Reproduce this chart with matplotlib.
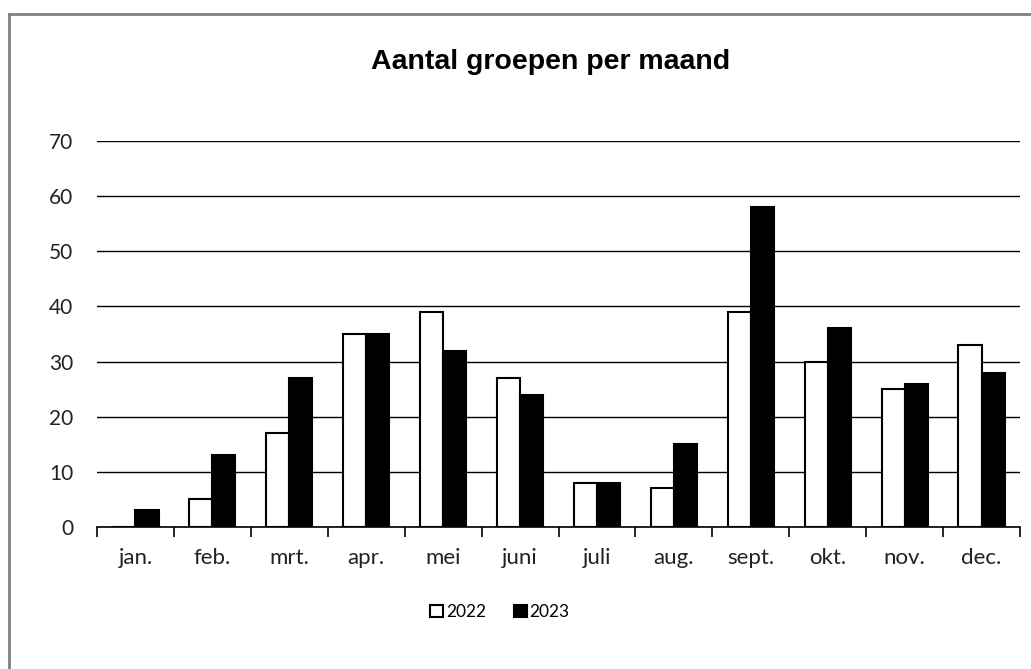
import matplotlib.pyplot as plt
import numpy as np
from matplotlib.lines import Line2D

months = ["jan.", "feb.", "mrt.", "apr.", "mei", "juni", "juli", "aug.",
          "sept.", "okt.", "nov.", "dec."]
groepen_2022 = [0, 5, 17, 35, 39, 27, 8, 7, 39, 30, 25, 33]
groepen_2023 = [3, 13, 27, 35, 32, 24, 8, 15, 58, 36, 26, 28]

plt.rcParams['font.family'] = ['Lato', 'DejaVu Sans']

fig = plt.figure(figsize=(10.31, 6.69), dpi=100)
ax = fig.add_axes([97/1031, 1 - 527/669, (1020 - 97)/1031, (527 - 141)/669])

x = np.arange(len(months))
w = 0.3
ax.bar(x - w/2, groepen_2022, w, color="white", edgecolor="black", linewidth=1.5,
       label="2022", zorder=3)
ax.bar(x + w/2, groepen_2023, w, color="black", edgecolor="black", linewidth=1.5,
       label="2023", zorder=3)

ax.set_xlim(-0.5, len(months) - 0.5)
ax.set_ylim(0, 70)
ax.set_yticks(range(0, 71, 10))
ax.yaxis.grid(True, color="black", linewidth=1)
ax.set_axisbelow(True)
for s in ["top", "right", "left"]:
    ax.spines[s].set_visible(False)
ax.spines["bottom"].set_linewidth(1.2)

ax.set_xticks(x)
ax.set_xticklabels(months, fontsize=16, color="#222222")
ax.set_xticks(np.arange(-0.5, len(months)), minor=True)
ax.tick_params(axis="x", which="major", length=0, pad=15)
ax.tick_params(axis="x", which="minor", length=7, width=1.2, direction="out")
ax.tick_params(axis="y", length=0, labelsize=15, pad=17, labelcolor="#222222")

fig.text(551/1031, 1 - 62/669, "Aantal groepen per maand", ha="center", va="center",
         fontsize=20.5, fontweight="bold", family="Liberation Sans")

leg = fig.legend(loc="center", bbox_to_anchor=(500/1031, 1 - 612/669), ncol=2,
                 frameon=False, fontsize=12.5, handlelength=0.75, handleheight=0.75,
                 handletextpad=0.15, columnspacing=1.6)

fig.add_artist(Line2D([9/1031, 1], [1 - 13.5/669, 1 - 13.5/669], color="#808080", linewidth=2))
fig.add_artist(Line2D([9/1031, 9/1031], [0, 1 - 13.5/669], color="#808080", linewidth=2))

fig.savefig("out.png", dpi=100)
